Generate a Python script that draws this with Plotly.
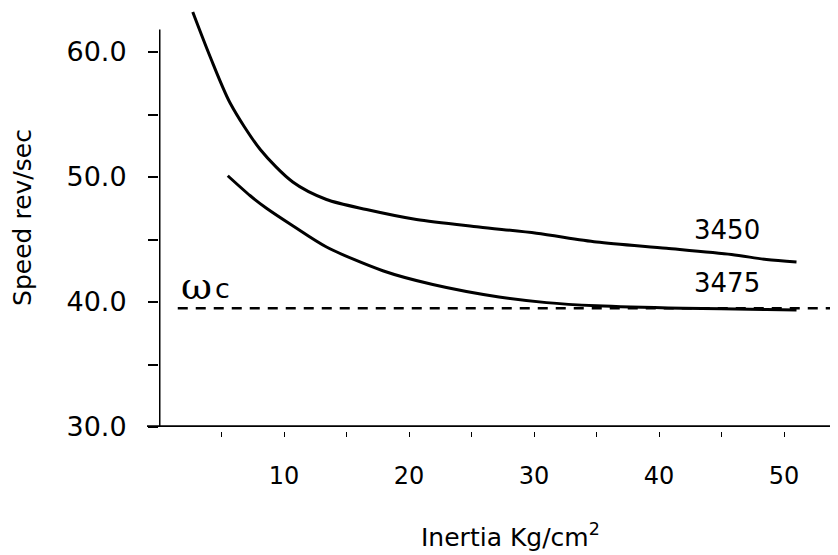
import plotly.graph_objects as go

# ---- data ----
inertia_3450 = [2.7, 4.1, 5.7, 8.1, 10.7, 13.4, 16.6, 20.6, 25.6, 30.2, 35.0, 40.6, 45.8, 48.6, 51.0]
speed_3450 = [63.2, 59.6, 55.9, 52.2, 49.6, 48.2, 47.4, 46.6, 46.0, 45.5, 44.8, 44.3, 43.8, 43.4, 43.2]

inertia_3475 = [5.5, 7.3, 8.6, 10.7, 13.4, 17.9, 21.9, 27.2, 31.0, 35.0, 41.9, 48.6, 51.0]
speed_3475 = [50.1, 48.5, 47.5, 46.1, 44.4, 42.5, 41.4, 40.4, 39.95, 39.7, 39.5, 39.4, 39.35]

omega_c = 39.5
omega_x = [1.5, 54.3]

x_major = [10, 20, 30, 40, 50]
x_major_text = ["10", "20", "30", "40", "50"]
x_minor = [5, 15, 25, 35, 45]
y_major = [30, 40, 50, 60]
y_major_text = ["30.0", "40.0", "50.0", "60.0"]
y_minor = [35, 45, 55]

series_labels = ["3450", "3475"]
label_pos = [(45.4, 45.8), (45.4, 41.5)]

X_RANGE = [0, 54.32]
Y_RANGE = [30, 63.52]
Y_AXIS_TOP = 61.8

FONT = "DejaVu Sans, Liberation Sans, Arial, sans-serif"
fig = go.Figure()

fig.add_trace(go.Scatter(x=inertia_3450, y=speed_3450, mode="lines",
                         line=dict(color="black", width=3, shape="spline", smoothing=0.8),
                         showlegend=False, hoverinfo="skip"))
fig.add_trace(go.Scatter(x=inertia_3475, y=speed_3475, mode="lines",
                         line=dict(color="black", width=3, shape="spline", smoothing=0.8),
                         showlegend=False, hoverinfo="skip"))
fig.add_trace(go.Scatter(x=omega_x, y=[omega_c, omega_c], mode="lines",
                         line=dict(color="black", width=2.7, dash="10px,8px"),
                         showlegend=False, hoverinfo="skip"))

# axis lines
fig.add_shape(type="line", xref="x", yref="y", x0=0, x1=0, y0=Y_RANGE[0], y1=Y_AXIS_TOP,
              line=dict(color="black", width=3))
fig.add_shape(type="line", xref="paper", yref="y", x0=-12 / 679, x1=1.02, y0=Y_RANGE[0], y1=Y_RANGE[0],
              line=dict(color="black", width=3.5))

for txt, (lx, ly) in zip(series_labels, label_pos):
    fig.add_annotation(x=lx, y=ly, text=txt, showarrow=False,
                       font=dict(family=FONT, size=26, color="black"),
                       xanchor="center", yanchor="middle")

# omega_c label (large serif omega followed by a small "c")
fig.add_annotation(x=1.6, y=41.3, text="ω", showarrow=False,
                   xanchor="left", yanchor="middle",
                   font=dict(family="DejaVu Serif, Liberation Serif, serif", size=38, color="black"))
fig.add_annotation(x=4.3, y=41.1, text="c", showarrow=False,
                   xanchor="left", yanchor="middle",
                   font=dict(family=FONT, size=27, color="black"))

# x-axis title (placed to match the reference, slightly right of centre)
fig.add_annotation(xref="paper", yref="paper", x=0.517, y=-0.246,
                   text="Inertia Kg/cm<sup>2</sup>", showarrow=False,
                   xanchor="center", yanchor="middle",
                   font=dict(family=FONT, size=25, color="black"))

# page body has an 8px margin, so the figure is sized/offset to compensate
fig.update_layout(
    width=830, height=547,
    margin=dict(l=151, r=0, t=0, b=124, pad=0),
    paper_bgcolor="white", plot_bgcolor="white",
    xaxis=dict(range=X_RANGE, tickmode="array", tickvals=x_major, ticktext=x_major_text,
               ticks="outside", ticklen=5, tickwidth=1, tickcolor="black",
               minor=dict(tickmode="array", tickvals=x_minor, ticks="outside",
                          ticklen=5, tickwidth=1, tickcolor="black", showgrid=False),
               showline=False, showgrid=False, zeroline=False,
               anchor="free", position=0, ticklabelstandoff=18,
               tickfont=dict(family=FONT, size=24, color="black")),
    yaxis=dict(range=Y_RANGE, domain=[4 / 423, 1], tickmode="array",
               tickvals=y_major, ticktext=y_major_text,
               ticks="outside", ticklen=10, tickwidth=2, tickcolor="black",
               minor=dict(tickmode="array", tickvals=y_minor, ticks="outside",
                          ticklen=10, tickwidth=2, tickcolor="black", showgrid=False),
               showline=False, showgrid=False, zeroline=False,
               ticklabelstandoff=16,
               tickfont=dict(family=FONT, size=27, color="black"),
               title=dict(text="Speed rev/sec", standoff=31,
                          font=dict(family=FONT, size=25, color="black"))),
)

fig.write_html("out.html")
